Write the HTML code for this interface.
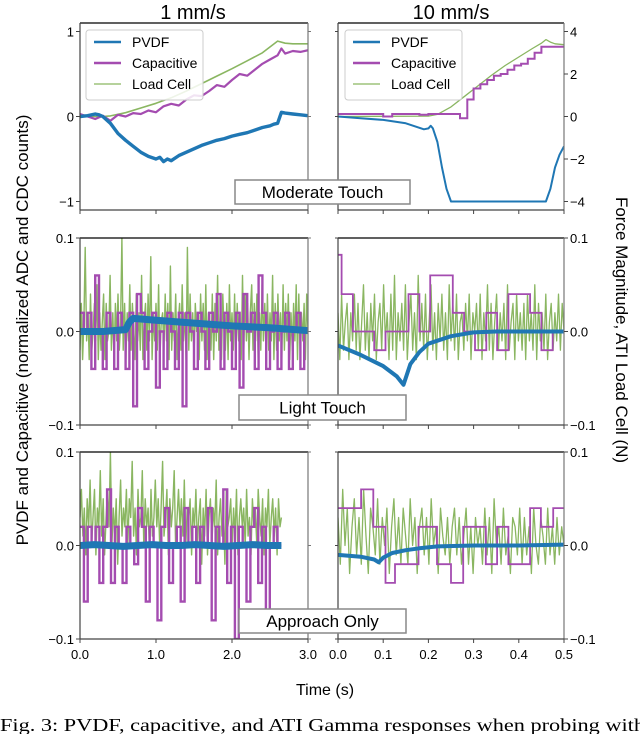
<!DOCTYPE html>
<html><head><meta charset="utf-8"><style>
html,body{margin:0;padding:0;background:#fff;}
svg{display:block;font-family:"Liberation Sans",sans-serif;}
</style></head><body>
<svg id="chart" width="640" height="734" viewBox="0 0 640 734" xmlns="http://www.w3.org/2000/svg">
<text x="193" y="19" font-size="20" text-anchor="middle">1 mm/s</text>
<text x="451" y="19" font-size="20" text-anchor="middle">10 mm/s</text>
<text transform="translate(28,330) rotate(-90)" font-size="17" text-anchor="middle">PVDF and Capacitive (normalized ADC and CDC counts)</text>
<text transform="translate(616,330) rotate(90)" font-size="17" text-anchor="middle">Force Magnitude, ATI Load Cell (N)</text>
<text x="325" y="695" font-size="16" text-anchor="middle">Time (s)</text>
<text x="0" y="731" font-size="18" font-family="Liberation Serif, serif" textLength="645" lengthAdjust="spacingAndGlyphs">Fig. 3: PVDF, capacitive, and ATI Gamma responses when probing with</text>
<g id="plots"></g>
</svg>
<script>
// ===== data =====
const mod1Time = [0,0.1,0.2,0.25,0.3,0.4,0.5,0.6,0.7,0.8,0.9,1.0,1.05,1.1,1.15,1.2,1.3,1.4,1.5,1.6,1.7,1.8,1.9,2.0,2.1,2.2,2.3,2.4,2.5,2.55,2.6,2.65,2.7,2.8,2.9,3.0];
const mod1Pvdf = [0,0.01,0.03,0.02,0,-0.08,-0.2,-0.28,-0.35,-0.42,-0.47,-0.5,-0.48,-0.53,-0.5,-0.52,-0.46,-0.42,-0.38,-0.34,-0.31,-0.28,-0.26,-0.23,-0.21,-0.19,-0.16,-0.13,-0.11,-0.09,-0.08,0.05,0.04,0.03,0.02,0.01];
const mod1CapTime = [0,0.1,0.2,0.3,0.4,0.5,0.6,0.7,0.8,0.9,1.0,1.1,1.2,1.3,1.4,1.5,1.6,1.7,1.8,1.9,2.0,2.1,2.2,2.3,2.4,2.5,2.6,2.65,2.7,2.8,2.9,3.0];
const mod1Cap = [0.03,0,-0.03,0.01,-0.05,0.02,0,0.04,0.03,0.07,0.05,0.12,0.15,0.13,0.2,0.25,0.24,0.3,0.37,0.35,0.43,0.5,0.48,0.55,0.62,0.67,0.72,0.8,0.74,0.77,0.76,0.78];
const mod1LoadTime = [0,0.3,0.4,0.6,0.8,1.0,1.2,1.4,1.6,1.8,2.0,2.2,2.4,2.6,2.7,2.8,3.0];
const mod1Load = [0,0,0.03,0.18,0.4,0.62,0.88,1.2,1.55,1.9,2.25,2.62,3.0,3.55,3.45,3.42,3.42];
const mod10Time = [0,0.05,0.1,0.15,0.19,0.2,0.205,0.21,0.22,0.23,0.24,0.25,0.3,0.4,0.46,0.47,0.48,0.49,0.5];
const mod10Pvdf = [0,-0.02,-0.04,-0.08,-0.15,-0.14,-0.11,-0.14,-0.3,-0.6,-0.85,-1,-1,-1,-1,-0.85,-0.6,-0.45,-0.35];
const mod10CapEdges = [0,0.1,0.12,0.18,0.2,0.27,0.286,0.3,0.315,0.33,0.345,0.36,0.375,0.39,0.405,0.42,0.435,0.45,0.456,0.5];
const mod10Cap = [0.03,0.0,0.03,0.02,0.03,-0.02,0.2,0.33,0.38,0.43,0.48,0.5,0.55,0.6,0.62,0.68,0.75,0.82,0.82];
const mod10LoadTime = [0,0.2,0.22,0.25,0.28,0.31,0.34,0.37,0.4,0.43,0.45,0.46,0.47,0.48,0.5];
const mod10Load = [0,0.02,0.1,0.45,0.95,1.45,1.95,2.4,2.8,3.2,3.45,3.62,3.5,3.42,3.38];
const light1PvdfTime = [0,0.3,0.6,0.65,0.7,1.0,1.5,2.0,2.5,3.0];
const light1Pvdf = [0,0,0.002,0.01,0.014,0.012,0.009,0.006,0.004,0.001];
const light1Cap = [2,0,2,-4,6,0,-4,2,0,-4,2,0,-4,2,-8,4,2,-4,0,2,-6,0,-4,2,0,-4,2,-8,2,0,-4,2,0,-4,2,0,4,-4,2,0,-4,2,-6,4,0,2,-4,6,2,-4,0,2,-4,0,2,-4,0,2,-4,0];
const light1Load = [-2,3,-3,1,9,-1,2,-3,4,-2,0,3,-1,5,-3,2,-2,1,4,-3,3,-1,0,6,-2,2,-3,3,-1,4,-2,1,10,-2,3,-3,2,-1,5,-2,3,0,-3,4,-1,2,-2,6,-3,1,3,-2,4,-1,8,-3,2,-1,3,-2,5,-3,1,2,-2,4,-1,3,-3,7,-2,2,-1,4,-3,1,3,-2,5,-1,2,-3,9,-2,4,-1,2,-3,3,0,
 2,-3,4,-1,3,-2,5,-3,2,1,-2,4,-3,3,-1,6,-2,2,-3,4,0,-2,3,-3,5,-1,2,-2,4,-3,3,-1,2,-3,6,-2,4,-1,3,-3,2,5,-2,3,-1,4,-3,2,-2,5,-1,3,-3,4,-2,2,-1,6,-3,3,-2,4,-1,2,-3,5,-2,3,-1,4,-3,2,-2,3,-1,5,-3,4,-2,2,-1,3,-3,4,0];
const light10PvdfTime = [0,0.05,0.1,0.13,0.145,0.16,0.18,0.2,0.25,0.3,0.35,0.4,0.45,0.5];
const light10Pvdf = [-0.015,-0.025,-0.037,-0.048,-0.057,-0.035,-0.022,-0.013,-0.005,-0.001,0,0,0,0];
const light10CapEdges = [0,0.008,0.033,0.08,0.105,0.156,0.18,0.204,0.254,0.279,0.303,0.328,0.352,0.377,0.425,0.45,0.475,0.5];
const light10Cap = [0.082,0.04,0,-0.02,0,0.04,0,0.06,0.02,0,-0.02,0.02,-0.02,0.04,0.02,-0.02,0];
const light10Load = [2,-3,4,-2,1,3,-3,2,-1,4,-2,3,-3,1,5,-2,2,-3,3,-1,4,-3,1,3,-2,5,-1,2,-3,4,-2,6,-3,2,-1,3,-2,5,-3,1,4,-2,2,-3,6,-1,3,-2,4,-3,1,5,-2,2,-3,3,-1,4,-2,2,-3,5,-1,3,-2,4,-3,1,2,-2,3,-1,4,-3,2,0,
 3,-2,4,-3,2,-1,5,-2,3,-3,1,4,-2,2,-1,3,-3,5,-2,1,3,-3,4,-1,2,-2,3,-3,4,-1,2,-2,5,-3,3,-1,2,-2,4,-3,1,3,-2,2,-1,4,-2,3,0];
const appr1Pvdf = [0,0.001,0,-0.001,0,0.001,0,0,0.001,0,-0.001,0,0.001,0,0];
const appr1Cap = [2,-6,2,0,2,-4,2,6,-4,2,0,-4,2,0,-2,4,2,-6,2,0,-8,2,4,-4,0,2,-6,4,0,2,-4,2,0,4,-8,2,0,6,-4,2,-10,2,0,-6,2,4,-4,2,-8,0,2,0];
const appr1Load = [3,6,1,4,-1,5,2,7,0,3,6,-1,4,2,8,1,5,-1,3,6,2,10,0,4,1,5,-2,3,7,1,4,2,6,0,5,3,9,1,4,-1,6,2,3,8,0,5,2,4,-1,6,1,3,7,2,5,0,4,9,1,3,6,-1,5,2,4,8,0,3,6,2,5,1,7,0,4,3,
 5,-1,4,2,6,0,3,5,-2,4,1,6,-1,3,5,0,4,2,7,-1,3,5,1,4,-2,6,2,3,5,0,4,1,6,-1,3,5,2,4,0,6,1,3,-1,5,2,4,0,6,3,1,5,-1,4,2,6,0,3,5,1,4,-1,5,2,3];
const appr10PvdfTime = [0,0.05,0.08,0.09,0.1,0.12,0.15,0.18,0.22,0.3,0.4,0.5];
const appr10Pvdf = [-0.01,-0.012,-0.015,-0.018,-0.013,-0.008,-0.005,-0.003,-0.001,0,0,0.001];
const appr10CapEdges = [0,0.051,0.078,0.105,0.126,0.178,0.219,0.25,0.277,0.327,0.352,0.377,0.425,0.449,0.476,0.5];
const appr10Cap = [0.04,0.06,0.02,-0.04,-0.02,0.02,-0.02,-0.04,0.02,-0.02,0.02,-0.02,0.04,0.02,0.04];
const appr10Load = [3,-2,6,0,4,-3,2,5,-1,3,-2,6,1,-3,4,2,-1,5,-2,3,0,4,-3,2,5,-1,3,-2,4,1,-2,5,0,3,-3,2,4,-1,3,-2,5,0,2,-3,4,1,-1,3,-2,2,4,-1,3,-2,1,4,-2,2,-3,3,0,
 2,-2,4,-1,3,-3,5,0,2,-2,4,-1,1,-3,3,2,-1,4,-2,3,-1,2,-3,4,0,-2,3,1,-2,4,-1,2,-2,3,-1,2,0];

const yTicksMod = [-1,0,1];
const yTicksModRight = [-4,-2,0,2,4];
const yTicksSmall = [-0.1,0.0,0.1];
const xTicks1 = [0,1,2,3];
const xTicks10 = [0,0.1,0.2,0.3,0.4,0.5];

// ===== layout =====
const NS = 'http://www.w3.org/2000/svg';
const root = document.getElementById('plots');
const COLS = [{x0:80,x1:308,max:3},{x0:338,x1:564,max:0.5}];
const ROWS = [{y0:23,lim:1.1,rlim:4.4},{y0:238,lim:0.1,rlim:0.1},{y0:452,lim:0.1,rlim:0.1}];
const H = 187;
const BLUE='#1f77b4', PURPLE='#a44cb0', GREEN='#8ab661';

function mk(tag, attrs, parent){
  const e=document.createElementNS(NS,tag);
  for(const k in attrs) e.setAttribute(k,attrs[k]);
  (parent||root).appendChild(e); return e;
}
function xS(c,t){const C=COLS[c];return C.x0+(t/C.max)*(C.x1-C.x0);}
function yS(r,v,right){const R=ROWS[r];const lim=right?R.rlim:R.lim;return R.y0+H/2-(v/lim)*(H/2);}
function clampY(r,y){const R=ROWS[r];return Math.max(R.y0,Math.min(R.y0+H,y));}

function drawLine(g,r,c,times,vals,color,w,right,name){
  let d='';
  for(let i=0;i<vals.length;i++){d+=(i?'L':'M')+xS(c,times[i]).toFixed(1)+','+clampY(r,yS(r,vals[i],right)).toFixed(1);}
  const p=mk('path',{d:d,fill:'none',stroke:color,'stroke-width':w,'stroke-linejoin':'round'},g);
  
  
}
function drawStep(g,r,c,edges,vals,color,w,name){
  let d='';
  for(let i=0;i<vals.length;i++){
    const y=clampY(r,yS(r,vals[i])).toFixed(1);
    d+=(i?'L':'M')+xS(c,edges[i]).toFixed(1)+','+y+'L'+xS(c,edges[i+1]).toFixed(1)+','+y;
  }
  const p=mk('path',{d:d,fill:'none',stroke:color,'stroke-width':w},g);
  
  
}
function evenTimes(n,tEnd){const a=[];for(let i=0;i<n;i++)a.push(tEnd*i/(n-1));return a;}
function evenEdges(n,tEnd){const a=[];for(let i=0;i<=n;i++)a.push(tEnd*i/n);return a;}
function scaled(arr,f){return arr.map(v=>v*f);}

function panel(r,c,name){
  const g=mk('g',{});
  
  
  const cp=mk('clipPath',{id:'cp'+r+c},g);
  mk('rect',{x:COLS[c].x0,y:ROWS[r].y0,width:COLS[c].x1-COLS[c].x0,height:H},cp);
  const inner=mk('g',{'clip-path':'url(#cp'+r+c+')'},g);
  return {g:g,inner:inner};
}
function axes(g,r,c){
  const C=COLS[c],R=ROWS[r],yb=R.y0+H;
  mk('line',{x1:C.x0,y1:R.y0,x2:C.x1,y2:R.y0,stroke:'#000','stroke-width':1.2},g);
  mk('line',{x1:C.x0,y1:R.y0,x2:C.x0,y2:yb,stroke:'#444','stroke-width':1.2},g);
  mk('line',{x1:C.x1,y1:R.y0,x2:C.x1,y2:yb,stroke:'#777','stroke-width':1.2},g);
  mk('line',{x1:C.x0,y1:yb,x2:C.x1,y2:yb,stroke:'#444','stroke-width':1.2},g);
  const xt=c===0?xTicks1:xTicks10;
  xt.forEach(t=>{
    const x=xS(c,t);
    mk('line',{x1:x,y1:yb,x2:x,y2:yb+4,stroke:'#444'},g);
    if(r===2){
      const tx=mk('text',{x:x,y:yb+20,'font-size':13,'text-anchor':'middle'},g);
      tx.textContent=t.toFixed(1);
      
      
    }
  });
  const yt=r===0?yTicksMod:yTicksSmall;
  if(c===0){
    yt.forEach(v=>{
      const y=yS(r,v);
      mk('line',{x1:C.x0-4,y1:y,x2:C.x0,y2:y,stroke:'#444'},g);
      mk('line',{x1:C.x1,y1:y,x2:C.x1+3,y2:y,stroke:'#777'},g);
      const tx=mk('text',{x:C.x0-6,y:y+5,'font-size':13,'text-anchor':'end'},g);
      tx.textContent=r===0?(v<0?'\u2212'+(-v):String(v)):(v<0?'\u22120.1':v.toFixed(1));
      
      
    });
  } else {
    const rt=r===0?yTicksModRight:yTicksSmall;
    rt.forEach(v=>{
      const y=yS(r,v,true);
      mk('line',{x1:C.x1,y1:y,x2:C.x1+4,y2:y,stroke:'#444'},g);
      const tx=mk('text',{x:C.x1+6,y:y+5,'font-size':13,'text-anchor':'start'},g);
      tx.textContent=r===0?(v<0?'\u2212'+(-v):String(v)):(v<0?'\u22120.1':v.toFixed(1));
      
      
    });
    yt.forEach(v=>{const y=yS(r,v);mk('line',{x1:C.x0-3,y1:y,x2:C.x0,y2:y,stroke:'#444'},g);});
  }
}
function legend(c){
  const x0=c===0?86:345;
  const g=mk('g',{});
  
  
  mk('rect',{x:x0,y:30,width:117,height:70,rx:3,fill:'#fff','fill-opacity':0.85,stroke:'#ccc'},g);
  [['PVDF',BLUE,2.5],['Capacitive',PURPLE,2.5],['Load Cell',GREEN,1.3]].forEach((e,i)=>{
    const y=42+i*21;
    const li=mk('line',{x1:x0+8,y1:y,x2:x0+35,y2:y,stroke:e[1],'stroke-width':e[2]},g);
    
    
    const t=mk('text',{x:x0+46,y:y+5,'font-size':14},g);
    t.textContent=e[0];
    
    
  });
}
function labelBox(text,x,y,w,h,name){
  const g=mk('g',{});
  
  
  mk('rect',{x:x,y:y,width:w,height:h,fill:'#fff',stroke:'#888','stroke-width':1.5},g);
  const t=mk('text',{x:x+w/2,y:y+h/2+6,'font-size':17,'text-anchor':'middle'},g);
  t.textContent=text;
}

// Row 0
let p=panel(0,0,'moderate-1mms-panel');
drawLine(p.inner,0,0,mod1LoadTime,mod1Load,GREEN,1.6,true,'load-cell-line');
drawLine(p.inner,0,0,mod1CapTime,mod1Cap,PURPLE,2.2,false,'capacitive-line');
drawLine(p.inner,0,0,mod1Time,mod1Pvdf,BLUE,3.4,false,'pvdf-line');
axes(p.g,0,0);
p=panel(0,1,'moderate-10mms-panel');
drawLine(p.inner,0,1,mod10LoadTime,mod10Load,GREEN,1.3,true,'load-cell-line');
drawStep(p.inner,0,1,mod10CapEdges,mod10Cap,PURPLE,2,'capacitive-line');
drawLine(p.inner,0,1,mod10Time,mod10Pvdf,BLUE,2,false,'pvdf-line');
axes(p.g,0,1);
legend(0);legend(1);
// Row 1
p=panel(1,0,'light-1mms-panel');
drawLine(p.inner,1,0,evenTimes(light1Load.length,3),scaled(light1Load,0.01),GREEN,1.4,true,'load-cell-line');
drawStep(p.inner,1,0,evenEdges(light1Cap.length,3),scaled(light1Cap,0.01),PURPLE,2.4,'capacitive-line');
drawLine(p.inner,1,0,light1PvdfTime,light1Pvdf,BLUE,7,false,'pvdf-line');
axes(p.g,1,0);
p=panel(1,1,'light-10mms-panel');
drawLine(p.inner,1,1,evenTimes(light10Load.length,0.5),scaled(light10Load,0.01),GREEN,1.3,true,'load-cell-line');
drawStep(p.inner,1,1,light10CapEdges,light10Cap,PURPLE,1.8,'capacitive-line');
drawLine(p.inner,1,1,light10PvdfTime,light10Pvdf,BLUE,4,false,'pvdf-line');
axes(p.g,1,1);
// Row 2
p=panel(2,0,'approach-1mms-panel');
drawLine(p.inner,2,0,evenTimes(appr1Load.length,2.65),scaled(appr1Load,0.01),GREEN,1.4,true,'load-cell-line');
drawStep(p.inner,2,0,evenEdges(appr1Cap.length,2.65),scaled(appr1Cap,0.01),PURPLE,2.4,'capacitive-line');
drawLine(p.inner,2,0,evenTimes(appr1Pvdf.length,2.65),appr1Pvdf,BLUE,7,false,'pvdf-line');
axes(p.g,2,0);
p=panel(2,1,'approach-10mms-panel');
drawLine(p.inner,2,1,evenTimes(appr10Load.length,0.5),scaled(appr10Load,0.01),GREEN,1.3,true,'load-cell-line');
drawStep(p.inner,2,1,appr10CapEdges,appr10Cap,PURPLE,1.8,'capacitive-line');
drawLine(p.inner,2,1,appr10PvdfTime,appr10Pvdf,BLUE,4,false,'pvdf-line');
axes(p.g,2,1);

labelBox('Moderate Touch',235,180,175,24,'moderate-touch-label');
labelBox('Light Touch',239,395,167,25,'light-touch-label');
labelBox('Approach Only',239,609,167,24,'approach-only-label');
</script>
</body></html>
